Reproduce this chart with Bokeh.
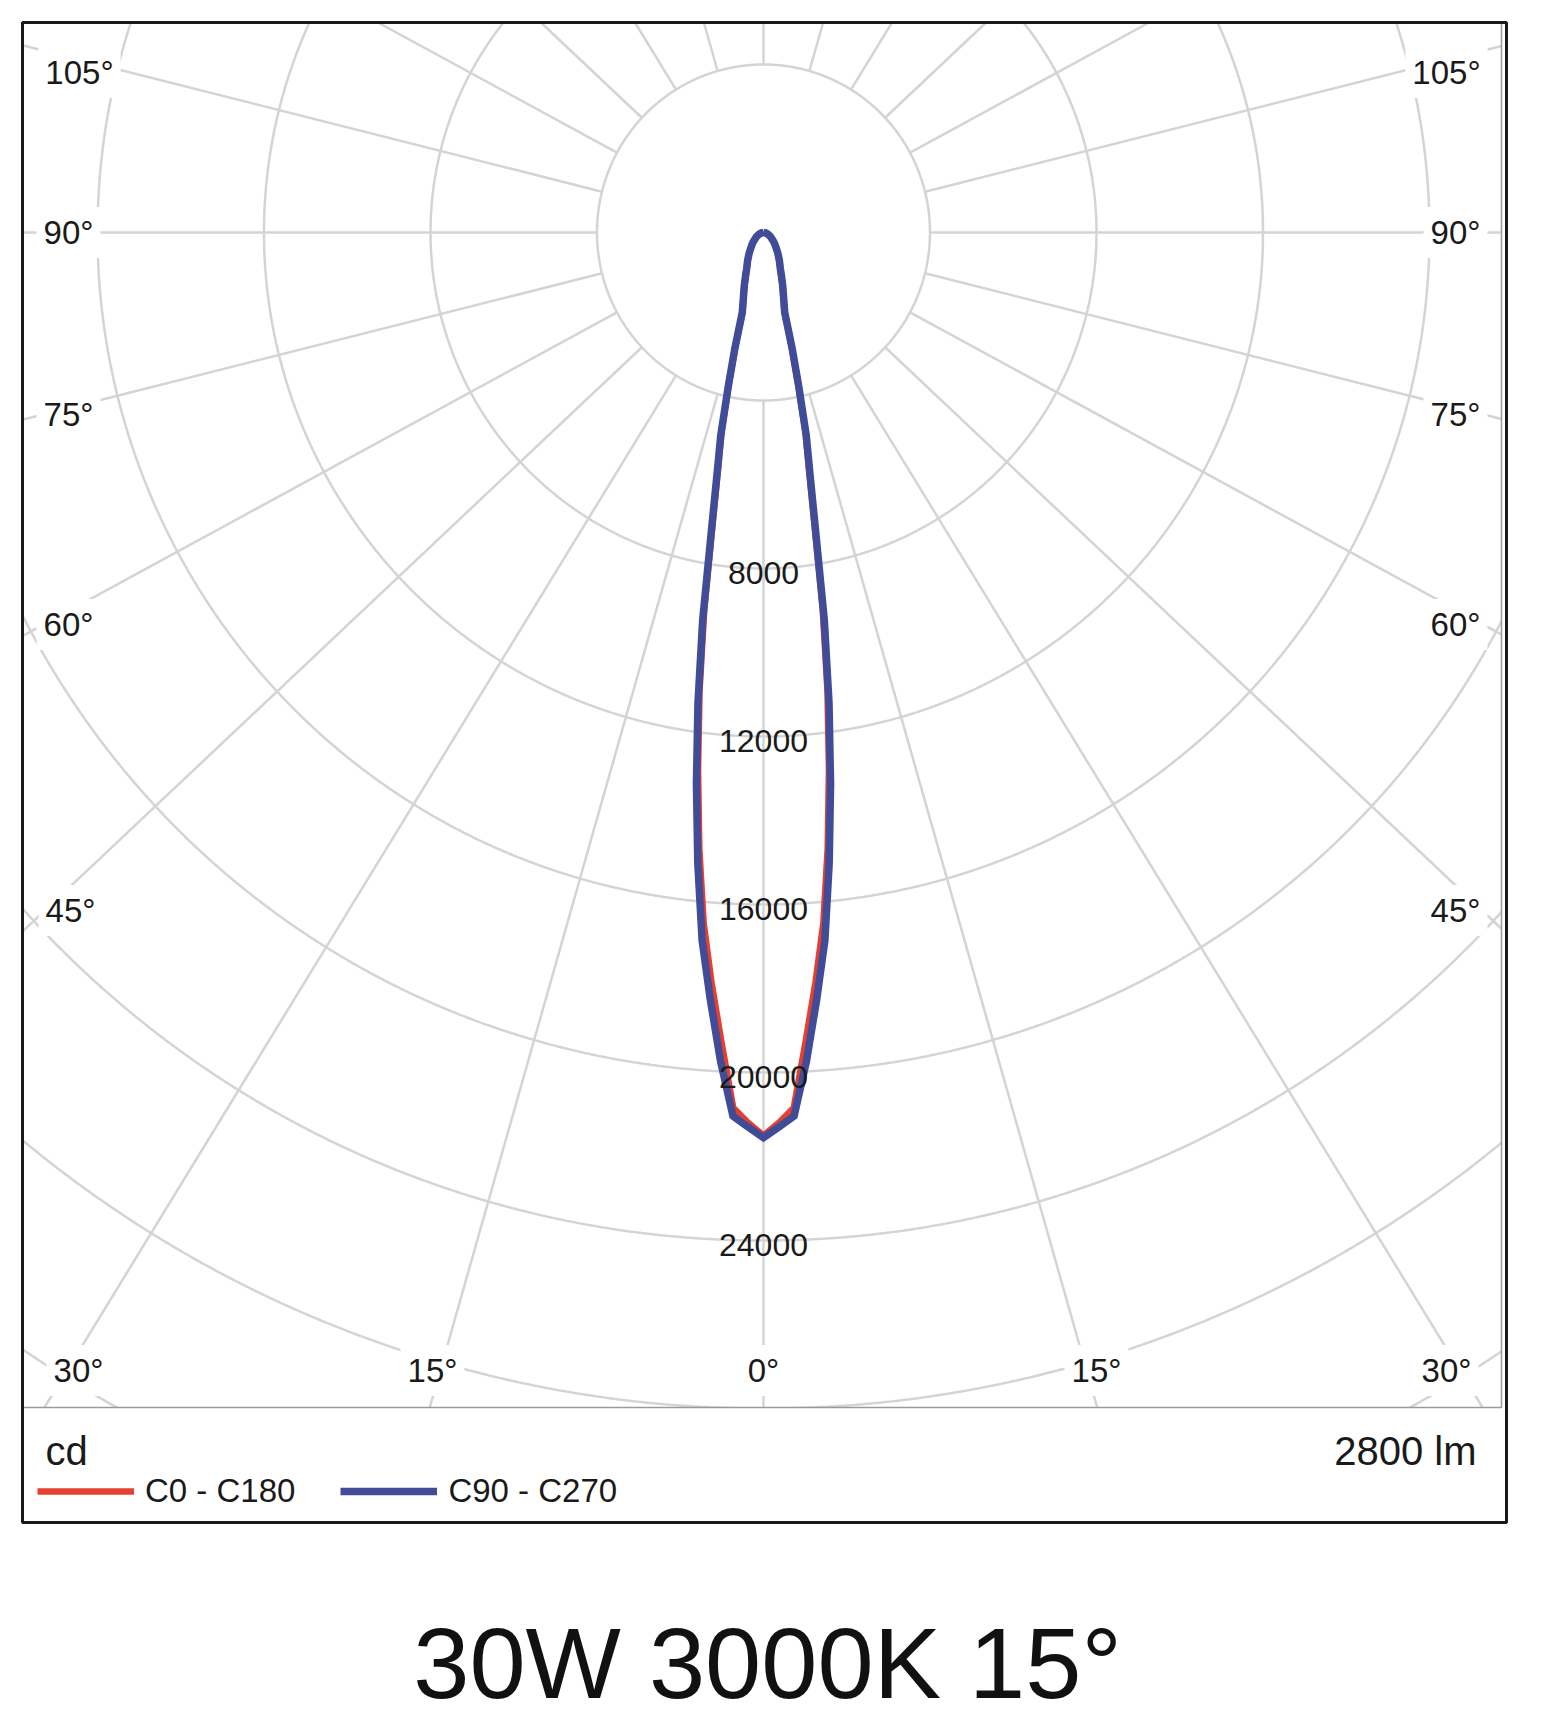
import math
from bokeh.plotting import figure
from bokeh.models import Range1d, Label, Legend, LegendItem
from bokeh.embed import file_html
from bokeh.resources import INLINE
from bokeh.core.properties import value

# ---------------- data ----------------
gamma_deg = [0, 1, 2, 3, 4, 5, 6, 7, 8, 9, 10, 11, 12, 13, 14, 15,
             17.5, 20, 22.5, 25, 30, 35, 40, 45, 50, 60, 70, 80, 90]
c0_c180 = [21500, 21200, 20850, 19300, 17900, 16500, 14750, 12900, 11050, 9100,
           7050, 5720, 4840, 3700, 2800, 1940, 1580, 1340, 1120, 950,
           750, 595, 465, 375, 295, 185, 105, 50, 0]
c90_c270 = [21550, 21300, 21050, 19750, 18310, 16920, 15100, 13220, 11310, 9340,
            7200, 5840, 4940, 3770, 2850, 1970, 1600, 1350, 1130, 960,
            760, 600, 470, 380, 300, 190, 110, 50, 0]
series_names = ["C0 - C180", "C90 - C270"]
ring_values = [4000, 8000, 12000, 16000, 20000, 24000, 28000, 32000]
ring_tick_labels = [8000, 12000, 16000, 20000, 24000]
ray_angles = [0, 15, 30, 45, 60, 75, 90, 105, 120, 135, 150, 165, 180]
side_tick_labels = ["105°", "90°", "75°", "60°", "45°"]
bottom_tick_labels = ["30°", "15°", "0°", "15°", "30°"]
unit_text = "cd"
flux_text = "2800 lm"
title_text = "30W 3000K 15°"

# ---------------- layout (page pixels) ----------------
W, H = 1540, 1722
PAGE = 0
CX, CY = 763, 232                  # polar centre on the page
SX, SY = 166.5 / 4000, 168 / 4000  # px per cd
RAY_K = 1.06 * SY / SX             # rays are drawn slightly widened
FONT = "Liberation Sans"
GRID = "#d4d4d4"
INK = "#1a1a1a"
RED = "#e5402f"
BLUE = "#414c99"
PL, PT, PR, PB = 22, 22, 1501, 1407   # polar area on the page
M = 8                                   # grid overshoot hidden by the covers


def gx(px):
    return (px - CX) / SX


def gy(py):
    return (CY - py) / SY


XMIN, XMAX = gx(PL - M), gx(PR + M)
YMIN, YMAX = gy(PB + M), gy(PT - M)


def inside(xc, yc):
    return XMIN <= xc <= XMAX and YMIN <= yc <= YMAX


p = figure(width=W, height=H,
           x_range=Range1d(gx(PAGE), gx(PAGE + W)),
           y_range=Range1d(gy(PAGE + H), gy(PAGE)),
           x_axis_type=None, y_axis_type=None,
           output_backend="svg", toolbar_location=None,
           min_border=0, outline_line_color=None,
           background_fill_color="white", border_fill_color="white")

# rings, kept inside the polar area
ring_xs, ring_ys = [], []
NSTEP = 3600
for v in ring_values:
    runs, cur = [], []
    for i in range(NSTEP + 1):
        a = 2 * math.pi * i / NSTEP
        xc, yc = v * math.cos(a), v * math.sin(a)
        if inside(xc, yc):
            cur.append((xc, yc))
        elif cur:
            runs.append(cur); cur = []
    if cur:
        runs.append(cur)
    if len(runs) > 1 and runs[0][0] == (v, 0.0) and runs[-1][-1][0] == v * math.cos(2 * math.pi):
        runs[0] = runs[-1] + runs[0]
        runs.pop()
    for r in runs:
        ring_xs.append([q[0] for q in r]); ring_ys.append([q[1] for q in r])
p.multi_line(ring_xs, ring_ys, line_color=GRID, line_width=2.5)

# rays (start on the inner ring, end at the polar area's edge)
x0s, y0s, x1s, y1s = [], [], [], []
r_in = ring_values[0]
for a in ray_angles:
    sides = [1] if a in (0, 180) else [-1, 1]
    for s in sides:
        t = math.radians(a)
        dxv, dyv = s * RAY_K * math.sin(t), -math.cos(t)
        n = math.hypot(dxv, dyv)
        ux, uy = dxv / n, dyv / n
        ts = []
        if ux > 1e-9: ts.append(XMAX / ux)
        if ux < -1e-9: ts.append(XMIN / ux)
        if uy > 1e-9: ts.append(YMAX / uy)
        if uy < -1e-9: ts.append(YMIN / uy)
        te = min(ts)
        x0s.append(r_in * ux); y0s.append(r_in * uy)
        x1s.append(te * ux); y1s.append(te * uy)
p.segment(x0s, y0s, x1s, y1s, line_color=GRID, line_width=2.5)

# white covers outside the polar area
for (l, r, t, b) in [(0, W, 0, PT), (0, PL, 0, H), (PR, W, 0, H), (0, W, PB, H)]:
    p.quad(left=gx(l), right=gx(r), top=gy(t), bottom=gy(b),
           fill_color="white", line_color=None)

# angle labels
side_y = [72, 232, 414, 624, 910]
left_x = [79, 68, 68, 68, 70]
right_x = [1446, 1455, 1455, 1455, 1455]
bottom_x = [78, 432, 763, 1096, 1446]
lab_specs = []
for t, yy, xl, xr in zip(side_tick_labels, side_y, left_x, right_x):
    lab_specs.append((t, xl, yy))
    lab_specs.append((t, xr, yy))
for t, xx in zip(bottom_tick_labels, bottom_x):
    lab_specs.append((t, xx, 1370))
for t, xx, yy in lab_specs:
    p.add_layout(Label(x=gx(xx), y=gy(yy), text=t, text_align="center",
                       text_baseline="middle", text_font=FONT, text_font_size="33px",
                       text_color=INK, background_fill_color="white", padding=7))


# curves
def polar_curve(vals):
    xs, ys = [], []
    for g, v in zip(reversed(gamma_deg), reversed(vals)):
        r = math.radians(g)
        xs.append(-v * math.sin(r)); ys.append(-v * math.cos(r))
    for g, v in zip(gamma_deg[1:], vals[1:]):
        r = math.radians(g)
        xs.append(v * math.sin(r)); ys.append(-v * math.cos(r))
    return xs, ys


xr_, yr_ = polar_curve(c0_c180)
xb_, yb_ = polar_curve(c90_c270)
r_red = p.line(xr_, yr_, line_color=RED, line_width=6.5, line_join="miter")
r_blue = p.line(xb_, yb_, line_color=BLUE, line_width=7.5, line_join="miter")

# ring value labels
p.text(x=[0] * len(ring_tick_labels), y=[-v for v in ring_tick_labels],
       text=[str(v) for v in ring_tick_labels], text_align="center",
       text_baseline="middle", y_offset=4, text_font=value(FONT),
       text_font_size="32px", text_color=INK)

# frame and separators
p.line([gx(PL), gx(PR), gx(PR)], [gy(PB), gy(PB), gy(PT)], line_color="#9a9a9a", line_width=1.5)
p.quad(left=gx(22), right=gx(1506), top=gy(22), bottom=gy(1522),
       fill_color=None, line_color=INK, line_width=3)

# legend
legend = Legend(items=[LegendItem(label=series_names[0], renderers=[r_red]),
                       LegendItem(label=series_names[1], renderers=[r_blue])],
                orientation="horizontal", location=(37 - PAGE, PAGE + H - 1498 - 12),
                glyph_width=97, glyph_height=24, label_height=24, label_standoff=11,
                spacing=45, padding=0, margin=0, border_line_color=None,
                background_fill_alpha=0, label_text_font=FONT,
                label_text_font_size="33px", label_text_color=INK)
p.add_layout(legend)

# texts
p.add_layout(Label(x=gx(45), y=gy(1450), text=unit_text, text_align="left",
                   text_baseline="middle", text_font=FONT, text_font_size="40px",
                   text_color=INK))
p.add_layout(Label(x=gx(1476), y=gy(1450), text=flux_text, text_align="right",
                   text_baseline="middle", text_font=FONT, text_font_size="40px",
                   text_color=INK))
p.add_layout(Label(x=gx(767), y=gy(1662), text=title_text, text_align="center",
                   text_baseline="middle", text_font=FONT, text_font_size="101px",
                   text_color="#111111"))

open("out.html", "w").write(file_html(p, INLINE))
